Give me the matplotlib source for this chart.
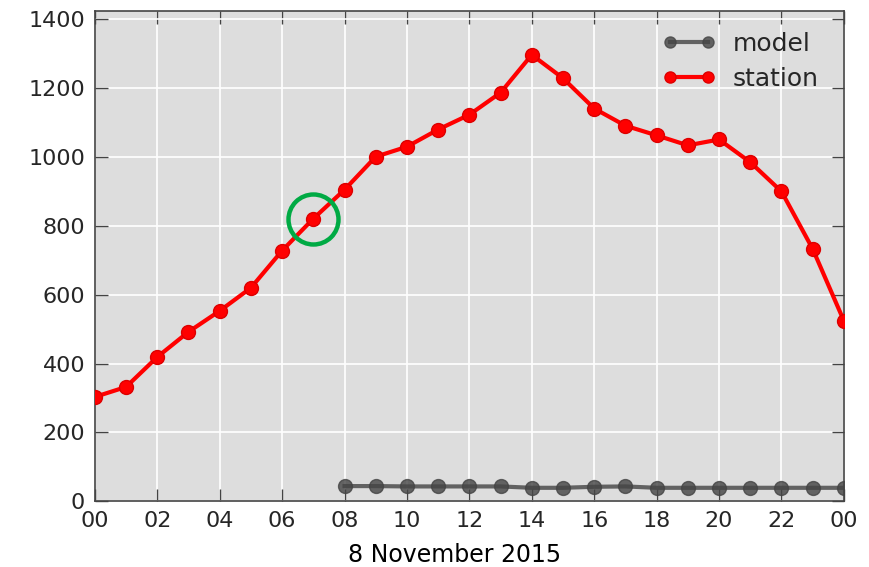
import pandas as pd
import matplotlib
matplotlib.use("Agg")
import matplotlib.pyplot as plt
import matplotlib.dates as mdates

# hourly values, 8 Nov 2015 00:00 -> 9 Nov 2015 00:00
hours = pd.date_range("2015-11-08 00:00", periods=25, freq="h")
station = [303, 332, 419, 492, 553, 620, 728, 821, 905, 1001, 1030, 1080, 1123,
           1187, 1297, 1229, 1141, 1091, 1063, 1034, 1051, 985, 900, 733, 524]
# model only starts at 08:00
model_hours = hours[8:]
model = [44, 44, 43, 43, 43, 43, 39, 39, 42, 43, 39, 39, 39, 39, 39, 39, 39]
highlight = 7  # index of the circled station point

plt.rcParams['font.family'] = ['DejaVu Sans']
plt.rcParams['text.color'] = '#262626'
plt.rcParams['xtick.labelcolor'] = '#262626'
plt.rcParams['ytick.labelcolor'] = '#262626'

fig = plt.figure(figsize=(8.7, 5.67), dpi=100)
ax = fig.add_axes([0.109, 0.116, 0.861, 0.865])
ax.set_facecolor("#dddddd")

ax.plot(model_hours, model, color="#444444", alpha=0.8, lw=3, marker="o",
        ms=10, mec="#444444", label="model", zorder=3)
ax.plot(hours, station, color="#ff0000", lw=3, marker="o", ms=10,
        mec="#dd0000", label="station", zorder=4)

# green circle around one point
ax.plot(hours[highlight], station[highlight], marker="o", ms=36, mfc="none",
        mec="#00aa44", mew=3.2, zorder=5, clip_on=False)

ax.set_xlim(hours[0], hours[-1])
ax.set_ylim(0, 1425)
ax.set_yticks(range(0, 1401, 200))
ax.xaxis.set_major_locator(mdates.HourLocator(interval=2))
ax.xaxis.set_major_formatter(mdates.DateFormatter("%H"))
ax.set_xlabel("8 November 2015", fontsize=17, labelpad=4)
ax.xaxis.set_label_coords(0.48, -0.085)

ax.grid(True, color="white", lw=1.2)
ax.set_axisbelow(True)
ax.tick_params(direction="in", length=9, width=1, color="#444444",
               labelsize=16, top=True, right=True, pad=7)
for s in ax.spines.values():
    s.set_color("#444444")
    s.set_linewidth(1.2)

ax.legend(loc="upper left", bbox_to_anchor=(0.745, 0.978), frameon=False,
          fontsize=18, numpoints=2, handlelength=2.1, handletextpad=0.68,
          borderaxespad=0, borderpad=0.4, labelspacing=0.44, markerscale=0.8)

fig.savefig("out.png", dpi=100)
